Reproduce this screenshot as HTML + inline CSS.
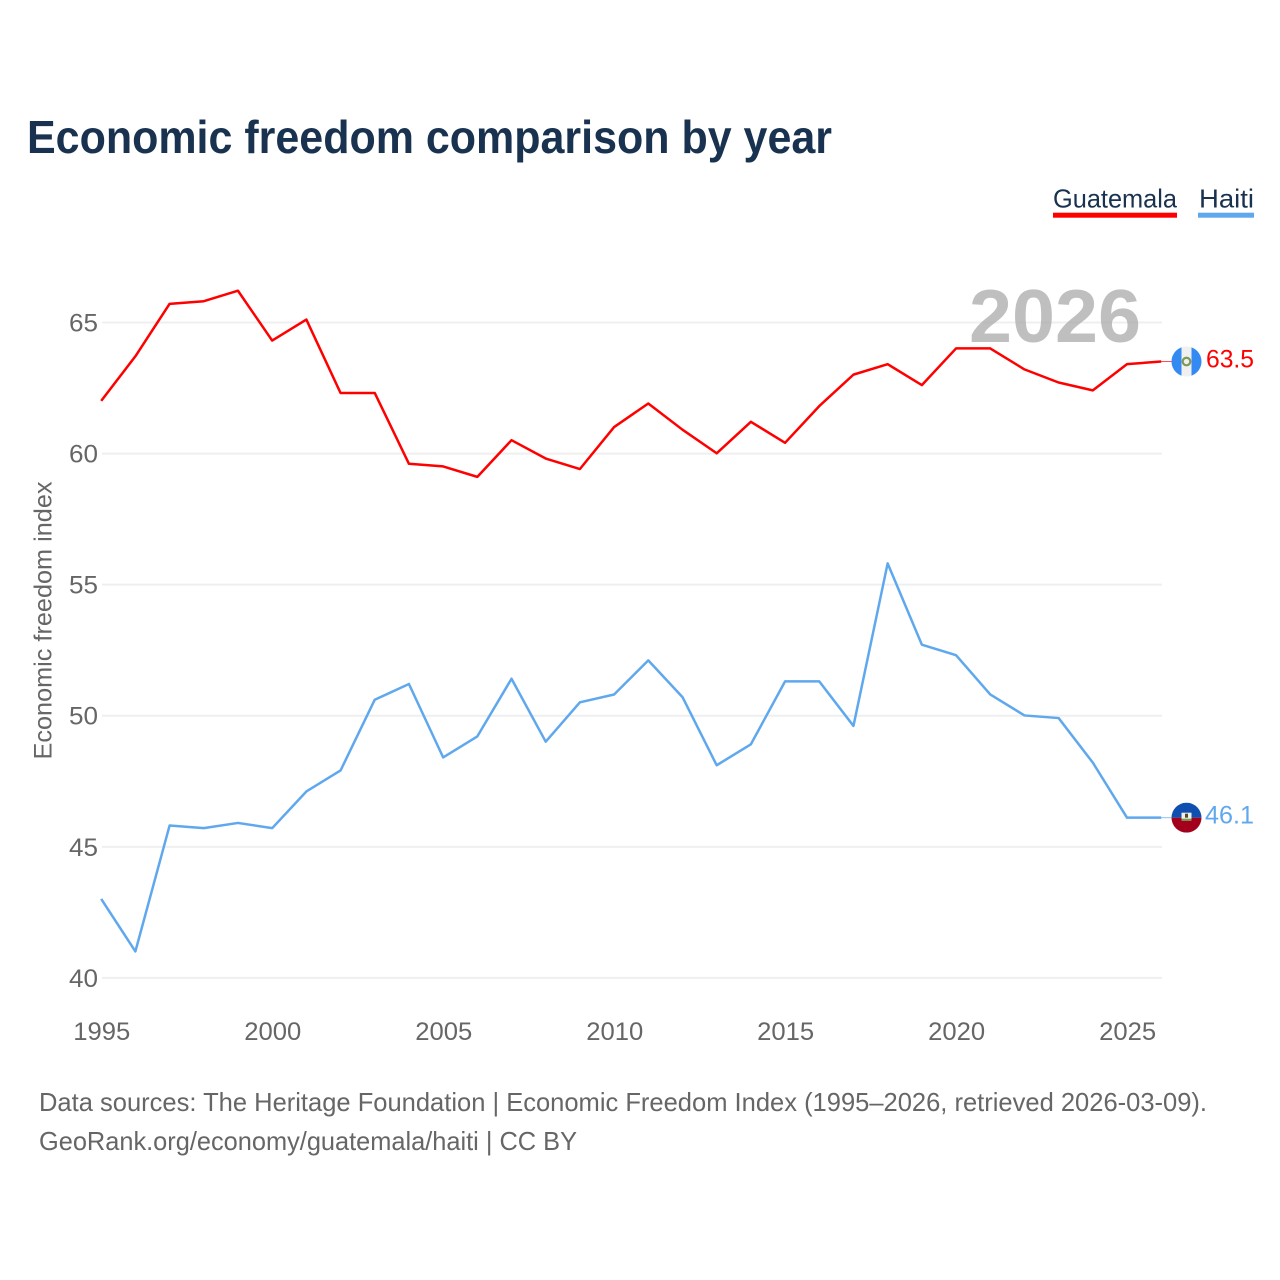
<!DOCTYPE html>
<html lang="en">
<head>
<meta charset="utf-8">
<title>Economic freedom comparison by year</title>
<style>
html,body{margin:0;padding:0;background:#fff;width:1280px;height:1280px;overflow:hidden}
svg{display:block}
text{font-family:"Liberation Sans",sans-serif}
</style>
</head>
<body>
<svg id="chart" xmlns="http://www.w3.org/2000/svg" width="1280" height="1280" viewBox="0 0 1280 1280">
  <rect width="1280" height="1280" fill="#fff"/>
  <text x="27" y="153" font-size="46" font-weight="700" fill="#18324f" textLength="805" lengthAdjust="spacingAndGlyphs">Economic freedom comparison by year</text>

  <g>
    <text x="1053" y="207.5" font-size="26" fill="#18324f" textLength="124" lengthAdjust="spacingAndGlyphs">Guatemala</text>
    <rect x="1053" y="212.7" width="124" height="5" fill="#ff0000"/>
    <text x="1199" y="207.5" font-size="26" fill="#18324f" textLength="55" lengthAdjust="spacingAndGlyphs">Haiti</text>
    <rect x="1198" y="212.7" width="56" height="5" fill="#5fa8ee"/>
  </g>

  <g id="grid"></g>
  <g id="yticks"></g>
  <g id="xticks"></g>

  <text transform="translate(51.5,759.5) rotate(-90)" font-size="25" fill="#666" textLength="278" lengthAdjust="spacingAndGlyphs">Economic freedom index</text>

  <text id="year-watermark" x="969" y="342" font-size="75" font-weight="700" fill="#a6a6a6" fill-opacity="0.72" textLength="172" lengthAdjust="spacingAndGlyphs">2026</text>

  <g id="series"></g>

  <g id="flag-guatemala"></g>
  <g id="flag-haiti"></g>
  <g id="end-labels"></g>

  <text x="39" y="1111" font-size="26" fill="#666" textLength="1168" lengthAdjust="spacingAndGlyphs">Data sources: The Heritage Foundation | Economic Freedom Index (1995–2026, retrieved 2026-03-09).</text>
  <text x="39" y="1150" font-size="26" fill="#666" textLength="538" lengthAdjust="spacingAndGlyphs">GeoRank.org/economy/guatemala/haiti | CC BY</text>
</svg>
<script>
const years = [1995,1996,1997,1998,1999,2000,2001,2002,2003,2004,2005,2006,2007,2008,2009,2010,2011,2012,2013,2014,2015,2016,2017,2018,2019,2020,2021,2022,2023,2024,2025,2026];
const guatemala = [62.0,63.7,65.7,65.8,66.2,64.3,65.1,62.3,62.3,59.6,59.5,59.1,60.5,59.8,59.4,61.0,61.9,60.9,60.0,61.2,60.4,61.8,63.0,63.4,62.6,64.0,64.0,63.2,62.7,62.4,63.4,63.5];
const haiti = [43.0,41.0,45.8,45.7,45.9,45.7,47.1,47.9,50.6,51.2,48.4,49.2,51.4,49.0,50.5,50.8,52.1,50.7,48.1,48.9,51.3,51.3,49.6,55.8,52.7,52.3,50.8,50.0,49.9,48.2,46.1,46.1];
const yTickValues = [40,45,50,55,60,65];
const xTickValues = [1995,2000,2005,2010,2015,2020,2025];

const NS = 'http://www.w3.org/2000/svg';
const xScale = function (year) { return 101.2 + (year - 1995) * (1161.2 - 101.2) / 31; };
const yScale = function (value) { return 977.6 - (value - 40) * (977.6 - 322.2) / 25; };
const make = function (tag, attrs, parent) {
  const el = document.createElementNS(NS, tag);
  Object.keys(attrs).forEach(function (k) { el.setAttribute(k, attrs[k]); });
  parent.appendChild(el);
  return el;
};

const gridGroup = document.getElementById('grid');
const yGroup = document.getElementById('yticks');
const xGroup = document.getElementById('xticks');
const seriesGroup = document.getElementById('series');
const endGroup = document.getElementById('end-labels');

yTickValues.forEach(function (v) {
  const gy = yScale(v) + 0.3;
  const line = make('line', {x1: 102, x2: 1162, y1: gy, y2: gy, stroke: '#efefef', 'stroke-width': 2}, gridGroup);
  
  
  const t = make('text', {x: 98, y: gy + 9, 'text-anchor': 'end', 'font-size': 25, fill: '#666', textLength: 29, lengthAdjust: 'spacingAndGlyphs'}, yGroup);
  t.textContent = String(v);
  
  
});

xTickValues.forEach(function (v) {
  const t = make('text', {x: xScale(v) + 0.6, y: 1040, 'text-anchor': 'middle', 'font-size': 25, fill: '#666', textLength: 57, lengthAdjust: 'spacingAndGlyphs'}, xGroup);
  t.textContent = String(v);
  
  
});

const linePoints = function (values) {
  return values.map(function (v, i) { return xScale(years[i]).toFixed(2) + ',' + yScale(v).toFixed(2); }).join(' ');
};

const haitiLine = make('polyline', {points: linePoints(haiti), fill: 'none', stroke: '#5fa8ee', 'stroke-width': 2.5, 'stroke-linejoin': 'round'}, seriesGroup);


const guatemalaLine = make('polyline', {points: linePoints(guatemala), fill: 'none', stroke: '#ff0000', 'stroke-width': 2.5, 'stroke-linejoin': 'round'}, seriesGroup);



const lastG = guatemala[guatemala.length - 1];
const lastH = haiti[haiti.length - 1];
const gY = yScale(lastG);
const hY = yScale(lastH);
const flagX = 1186.5;

const gLeader = make('line', {x1: 1161, x2: 1172, y1: gY, y2: gY, stroke: '#ff0000', 'stroke-width': 1, 'stroke-opacity': 0.7}, seriesGroup);


const hLeader = make('line', {x1: 1161, x2: 1172, y1: hY, y2: hY, stroke: '#5fa8ee', 'stroke-width': 1, 'stroke-opacity': 0.7}, seriesGroup);



const gLabel = make('text', {x: 1254, y: gY + 6, 'text-anchor': 'end', 'font-size': 25, fill: '#ff0000', textLength: 48, lengthAdjust: 'spacingAndGlyphs'}, endGroup);
gLabel.textContent = lastG.toFixed(1);


const hLabel = make('text', {x: 1254, y: hY + 6, 'text-anchor': 'end', 'font-size': 25, fill: '#5fa8ee', textLength: 49, lengthAdjust: 'spacingAndGlyphs'}, endGroup);
hLabel.textContent = lastH.toFixed(1);



const gFlag = document.getElementById('flag-guatemala');
const gClip = make('clipPath', {id: 'clip-g'}, gFlag);
make('circle', {cx: flagX, cy: gY, r: 15}, gClip);
const gBody = make('g', {'clip-path': 'url(#clip-g)'}, gFlag);
make('rect', {x: flagX - 15, y: gY - 15, width: 30, height: 30, fill: '#f0f0f0'}, gBody);
make('rect', {x: flagX - 15, y: gY - 15, width: 10, height: 30, fill: '#338af3'}, gBody);
make('rect', {x: flagX + 5, y: gY - 15, width: 10, height: 30, fill: '#338af3'}, gBody);
make('circle', {cx: flagX, cy: gY, r: 3.8, fill: 'none', stroke: '#7f9a55', 'stroke-width': 2.2}, gBody);

const hFlag = document.getElementById('flag-haiti');
const hClip = make('clipPath', {id: 'clip-h'}, hFlag);
make('circle', {cx: flagX, cy: hY, r: 15}, hClip);
const hBody = make('g', {'clip-path': 'url(#clip-h)'}, hFlag);
make('rect', {x: flagX - 15, y: hY - 15, width: 30, height: 15, fill: '#0f4fb0'}, hBody);
make('rect', {x: flagX - 15, y: hY, width: 30, height: 15, fill: '#a2001d'}, hBody);
make('rect', {x: flagX - 5, y: hY - 5, width: 10, height: 8, fill: '#f0f0f0'}, hBody);
make('rect', {x: flagX - 1.5, y: hY - 4, width: 3, height: 4, fill: '#5a4a20'}, hBody);
make('rect', {x: flagX - 5, y: hY + 1, width: 10, height: 2, fill: '#6da544'}, hBody);
</script>
</body>
</html>
